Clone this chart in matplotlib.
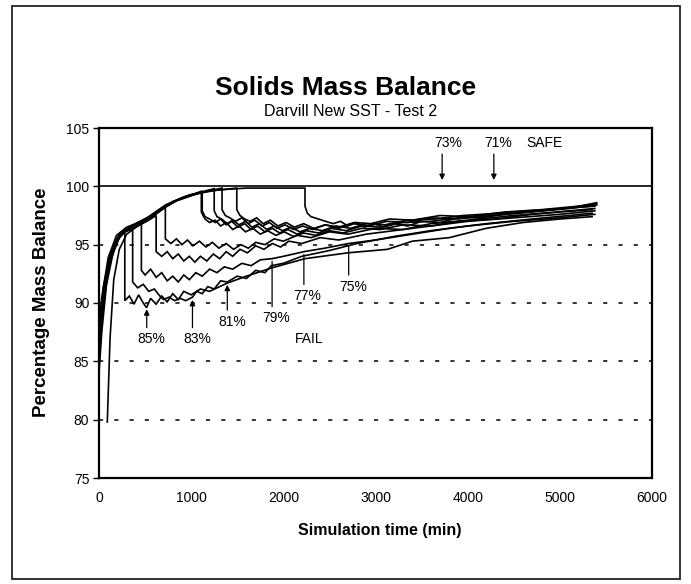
import matplotlib
matplotlib.use("Agg")
import matplotlib.pyplot as plt
from matplotlib.patches import Rectangle

plt.rcParams['font.family'] = ['Liberation Sans', 'DejaVu Sans']
plt.rcParams['lines.scale_dashes'] = False

# ---- data (time in min, percentage mass balance) ----
# 85% case
t_c1 = [0, 30, 80, 150, 220, 280, 280, 330, 380, 430, 480, 516, 560, 620, 680, 740, 800, 860, 920,
        1000, 1100, 1200, 1390, 1600, 1870, 2235, 2700, 3130, 3400, 3800, 4200, 4600, 5000, 5350]
v_c1 = [84.0, 87.5, 91.5, 94.2, 95.6, 96.1, 90.2, 90.6, 89.9, 90.7, 90.0, 89.6, 90.4, 89.9, 90.6, 90.1, 90.8, 90.3, 91.0,
        90.7, 91.2, 91.0, 91.7, 92.3, 93.0, 93.8, 94.3, 94.6, 95.3, 95.6, 96.4, 96.9, 97.2, 97.4]

# 83% case
t_c2 = [0, 40, 100, 180, 260, 365, 365, 420, 480, 540, 600, 660, 700, 760, 820, 880, 940, 1014,
        1060, 1120, 1180, 1250, 1320, 1392, 1500, 1600, 1700, 1800, 1870, 2000, 2200, 2500, 2800,
        3200, 3600, 4000, 4500, 5000, 5380]
v_c2 = [86.0, 89.5, 93.0, 95.2, 96.1, 96.5, 91.8, 91.3, 91.6, 91.0, 91.2, 90.6, 90.3, 90.5, 90.2, 90.4, 90.2, 90.5,
        91.0, 90.8, 91.4, 91.2, 91.9, 91.8, 92.3, 92.1, 92.8, 92.6, 93.2, 93.4, 94.0, 94.5, 95.1,
        95.7, 96.2, 96.6, 97.0, 97.3, 97.6]

# 81% case
t_c3 = [0, 40, 110, 200, 300, 400, 460, 460, 500, 560, 620, 680, 740, 800, 860, 920, 980, 1050, 1120,
        1200, 1280, 1360, 1450, 1550, 1650, 1750, 1878, 2000, 2223, 2450, 2709, 3000, 3400, 3800,
        4200, 4700, 5100, 5350]
v_c3 = [87.5, 90.5, 93.8, 95.6, 96.3, 96.7, 96.9, 92.8, 92.4, 92.9, 92.2, 92.6, 91.9, 92.3, 91.8, 92.4, 92.0, 92.6, 92.3,
        92.9, 92.6, 93.1, 92.9, 93.4, 93.2, 93.7, 93.8, 94.0, 94.4, 94.7, 95.1, 95.4, 95.9, 96.4,
        96.8, 97.2, 97.5, 97.7]

# 79% case
t_c4 = [90, 120, 160, 220, 300, 420, 540, 620, 620, 680, 740, 800, 860, 920, 980, 1040, 1100, 1170,
        1240, 1310, 1380, 1450, 1530, 1610, 1700, 1790, 1880, 1970, 2060, 2200, 2400, 2600, 2900,
        3200, 3600, 4000, 4500, 5000, 5380]
v_c4 = [79.8, 87.0, 92.0, 94.6, 95.9, 96.6, 97.1, 97.5, 94.4, 94.0, 94.4, 93.8, 94.2, 93.6, 94.0, 93.5, 94.0, 93.6,
        94.2, 93.8, 94.4, 94.0, 94.6, 94.3, 94.9, 94.6, 95.1, 94.8, 95.3, 95.1, 95.6, 95.4, 95.9,
        96.2, 96.6, 97.0, 97.3, 97.6, 97.9]

# 77% case
t_c5 = [0, 30, 90, 170, 260, 400, 550, 650, 720, 720, 780, 840, 900, 960, 1020, 1090, 1160, 1230,
        1300, 1380, 1460, 1540, 1620, 1700, 1800, 1900, 2000, 2150, 2300, 2500, 2700, 3000, 3300,
        3600, 4000, 4500, 5000, 5350]
v_c5 = [85.0, 88.5, 92.5, 95.0, 96.0, 96.5, 97.2, 97.8, 98.2, 95.5, 95.1, 95.5, 95.0, 95.4, 94.9, 95.3, 94.8, 95.2,
        94.7, 95.1, 94.6, 95.0, 94.7, 95.2, 95.0, 95.5, 95.3, 95.8, 95.6, 96.1, 95.9, 96.4, 96.3,
        96.8, 97.1, 97.5, 97.8, 98.0]

# 75% case
t_c6 = [0, 40, 110, 200, 320, 480, 650, 850, 1000, 1110, 1110, 1150, 1200, 1260, 1320, 1380, 1450,
        1520, 1590, 1670, 1750, 1830, 1920, 2010, 2110, 2220, 2350, 2500, 2650, 2850, 3050, 3300,
        3600, 3900, 4300, 4700, 5100, 5380]
v_c6 = [86.5, 90.0, 93.5, 95.5, 96.4, 96.9, 97.9, 98.8, 99.2, 99.5, 97.8, 97.2, 96.9, 97.1, 96.6, 96.9, 96.3,
        96.6, 96.1, 96.4, 95.9, 96.2, 95.8, 96.1, 95.7, 96.0, 95.8, 96.2, 96.0, 96.4, 96.3, 96.7,
        96.6, 97.0, 97.2, 97.6, 97.9, 98.1]

t_c7 = [0, 50, 120, 220, 350, 500, 700, 900, 1050, 1120, 1120, 1150, 1200, 1260, 1320, 1380, 1440,
        1510, 1580, 1650, 1720, 1800, 1880, 1960, 2050, 2150, 2250, 2380, 2520, 2680, 2850, 3050,
        3300, 3600, 3900, 4300, 4700, 5100, 5400]
v_c7 = [87.0, 90.8, 94.0, 95.9, 96.6, 97.1, 98.2, 99.0, 99.4, 99.6, 97.9, 97.4, 97.2, 96.9, 97.2, 96.7, 97.0,
        96.5, 96.8, 96.3, 96.6, 96.1, 96.4, 96.0, 96.3, 95.9, 96.2, 96.0, 96.4, 96.2, 96.6, 96.5,
        96.9, 97.0, 97.3, 97.5, 97.8, 98.1, 98.4]

t_c8 = [0, 40, 110, 210, 330, 520, 720, 920, 1100, 1250, 1250, 1280, 1330, 1390, 1450, 1520, 1590,
        1660, 1740, 1820, 1900, 1990, 2080, 2180, 2290, 2420, 2570, 2730, 2900, 3100, 3350, 3650,
        3950, 4350, 4750, 5150, 5380]
v_c8 = [85.5, 89.5, 93.2, 95.6, 96.5, 97.3, 98.4, 99.1, 99.5, 99.8, 97.9, 97.4, 97.2, 96.8, 97.1, 96.7, 97.0,
        96.5, 96.8, 96.3, 96.6, 96.2, 96.5, 96.1, 96.4, 96.2, 96.6, 96.4, 96.8, 96.7, 97.1, 97.2,
        97.5, 97.7, 97.9, 98.2, 98.3]

t_c9 = [0, 30, 100, 190, 300, 460, 640, 820, 1000, 1180, 1335, 1335, 1370, 1420, 1480, 1550, 1620,
        1690, 1770, 1850, 1930, 2020, 2110, 2210, 2320, 2450, 2600, 2770, 2950, 3150, 3400, 3700,
        4000, 4400, 4800, 5200, 5400]
v_c9 = [88.0, 90.5, 93.9, 95.8, 96.5, 97.0, 97.8, 98.7, 99.2, 99.6, 99.85, 98.0, 97.5, 97.3, 97.0, 97.3, 96.8,
        97.1, 96.6, 96.9, 96.4, 96.7, 96.3, 96.6, 96.3, 96.7, 96.5, 96.9, 96.8, 97.2, 97.1, 97.5,
        97.4, 97.8, 98.0, 98.3, 98.5]

t_c10 = [0, 40, 120, 230, 380, 560, 760, 960, 1200, 1495, 1495, 1530, 1580, 1640, 1710, 1780, 1860,
         1940, 2030, 2120, 2220, 2330, 2460, 2600, 2760, 2930, 3120, 3350, 3600, 3900, 4250, 4650,
         5050, 5350]
v_c10 = [86.0, 90.2, 93.7, 95.9, 96.7, 97.4, 98.5, 99.2, 99.6, 99.85, 98.0, 97.5, 97.2, 97.0, 97.3, 96.8, 97.1,
         96.6, 96.9, 96.5, 96.8, 96.4, 96.7, 96.4, 96.8, 96.6, 97.0, 96.9, 97.3, 97.2, 97.6, 97.9,
         98.1, 98.3]

t_c11 = [0, 50, 130, 250, 420, 600, 800, 1000, 1300, 1600, 2235, 2235, 2260, 2300, 2380, 2460, 2540,
         2620, 2700, 2790, 2880, 2980, 3090, 3210, 3350, 3500, 3700, 3900, 4150, 4450, 4800, 5150, 5400]
v_c11 = [87.8, 91.5, 94.3, 96.0, 96.9, 97.6, 98.7, 99.3, 99.7, 99.85, 99.85, 98.3, 97.7, 97.4, 97.2, 97.0, 96.8,
         97.0, 96.6, 96.9, 96.5, 96.8, 96.5, 96.8, 96.6, 97.0, 96.9, 97.3, 97.3, 97.7, 97.9, 98.2, 98.6]

series = [(t_c1, v_c1), (t_c2, v_c2), (t_c3, v_c3), (t_c4, v_c4), (t_c5, v_c5), (t_c6, v_c6),
          (t_c7, v_c7), (t_c8, v_c8), (t_c9, v_c9), (t_c10, v_c10), (t_c11, v_c11)]

# failure labels: text, label position, arrow tip, arrowhead?
fail_labels = ["85%", "83%", "81%", "79%", "77%", "75%"]
fail_label_t = [572, 1068, 1446, 1921, 2255, 2762]
fail_label_v = [86.9, 86.9, 88.4, 88.7, 90.6, 91.4]
fail_tip_t = [518, 1014, 1392, 1878, 2223, 2709]
fail_tip_v = [89.7, 90.5, 91.8, 93.8, 94.4, 95.1]
fail_head = [True, True, True, False, False, False]

safe_labels = ["73%", "71%"]
safe_label_t = [3788, 4330]
safe_tip_t = [3723, 4284]

# ---- figure ----
W, H = 691, 584
fig = plt.figure(figsize=(W / 100, H / 100), dpi=100)
fig.patches.append(Rectangle((12 / W, 1 - 579 / H), 668 / W, 573 / H, transform=fig.transFigure,
                             fill=False, lw=1.3, ec='#222222'))

ax = fig.add_axes([99 / W, 1 - 478 / H, 553 / W, 350 / H])

for tt, vv in series:
    ax.plot(tt, vv, color='black', lw=1.2, solid_joinstyle='miter')

ax.axhline(100, color='black', lw=1.2)
for g in [80, 85, 90, 95]:
    ax.axhline(g, color='black', lw=1.1, linestyle=(0, (3, 8)))

for lab, lt, lv, tt, tv, head in zip(fail_labels, fail_label_t, fail_label_v,
                                      fail_tip_t, fail_tip_v, fail_head):
    ax.text(lt, lv, lab, ha='center', va='center', fontsize=10)
    style = dict(arrowstyle='-|>', color='black', lw=0.9, mutation_scale=8) if head else \
        dict(arrowstyle='-', color='black', lw=0.9)
    ax.annotate('', xy=(tt, tv), xytext=(tt, lv + 0.75), arrowprops=style)

for lab, lt, tt in zip(safe_labels, safe_label_t, safe_tip_t):
    ax.text(lt, 103.7, lab, ha='center', va='center', fontsize=10)
    ax.annotate('', xy=(tt, 100.3), xytext=(tt, 103.0),
                arrowprops=dict(arrowstyle='-|>', color='black', lw=0.9, mutation_scale=8))
ax.text(4834, 103.7, "SAFE", ha='center', va='center', fontsize=10)
ax.text(2277, 86.9, "FAIL", ha='center', va='center', fontsize=10)

ax.set_xlim(0, 6000)
ax.set_ylim(75, 105)
ax.set_xticks(range(0, 6001, 1000))
ax.set_yticks(range(75, 106, 5))
ax.tick_params(axis='y', direction='out', length=4, width=1, labelsize=10, pad=3)
ax.tick_params(axis='x', length=0, labelsize=10, pad=9)
for s in ax.spines.values():
    s.set_linewidth(1.6)

fig.text(346 / W, 1 - 88 / H, "Solids Mass Balance", ha='center', va='center',
         fontsize=19, fontweight='bold')
fig.text(351 / W, 1 - 112 / H, "Darvill New SST - Test 2", ha='center', va='center', fontsize=11.5)
fig.text(380 / W, 1 - 531 / H, "Simulation time (min)", ha='center', va='center',
         fontsize=11.5, fontweight='bold')
fig.text(42 / W, 1 - 302 / H, "Percentage Mass Balance", ha='center', va='center',
         rotation=90, fontsize=13.5, fontweight='bold')

fig.savefig("out.png", dpi=100)
